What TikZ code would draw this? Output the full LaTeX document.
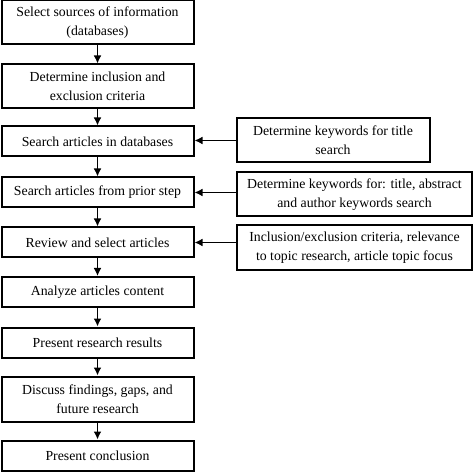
\documentclass[tikz,border=0pt]{standalone}
\usepackage{fontspec}
\setmainfont{Liberation Serif}
\usepackage{tikz}
\usetikzlibrary{arrows.meta}

\tikzset{
  stepbox/.style={draw,line width=2pt,align=center,inner sep=0pt,
    font=\fontsize{13.8}{19}\selectfont},
  flow/.style={-{Latex[length=8pt,width=8pt]},line width=1.7pt}
}

\begin{document}
\begin{tikzpicture}[x=1pt,y=1pt]
        \useasboundingbox (0,0) rectangle (474,-473);
        % main steps
        \node[stepbox,minimum width=192,minimum height=44] (s1) at (97.5,-22.5) {Select sources of information\\(databases)};
        \node[stepbox,minimum width=192,minimum height=44] (s2) at (97.5,-86.5) {Determine inclusion and\\exclusion criteria};
        \node[stepbox,minimum width=192,minimum height=30] (s3) at (97.5,-141.5) {Search articles in databases};
        \node[stepbox,minimum width=192,minimum height=30] (s4) at (97.5,-192.5) {Search articles from prior step};
        \node[stepbox,minimum width=192,minimum height=30] (s5) at (97.5,-242.5) {Review and select articles};
        \node[stepbox,minimum width=192,minimum height=30] (s6) at (97.5,-292) {Analyze articles content};
        \node[stepbox,minimum width=192,minimum height=30] (s7) at (97.5,-342.5) {Present research results};
        \node[stepbox,minimum width=192,minimum height=45] (s8) at (97.5,-399) {Discuss findings, gaps, and\\future research};
        \node[stepbox,minimum width=192,minimum height=30] (s9) at (97.5,-455.5) {Present conclusion};
        % side inputs
        \node[stepbox,minimum width=193,minimum height=44] (k1) at (333,-140.5) {Determine keywords for title\\search};
        \node[stepbox,minimum width=235,minimum height=44] (k2) at (354.5,-194.5) {Determine keywords for: title, abstract\\and author keywords search};
        \node[stepbox,minimum width=235,minimum height=45] (k3) at (354.5,-248) {Inclusion/exclusion criteria, relevance\\to topic research, article topic focus};
        \foreach \a/\b in {s1/s2,s2/s3,s3/s4,s4/s5,s5/s6,s6/s7,s7/s8,s8/s9}
          \draw[flow] (\a) -- (\b);
        \draw[flow] (k1.west) -- (k1.west -| s3.east);
        \draw[flow] (k2.west |- s4) -- (s4.east);
        \draw[flow] (k3.west |- s5) -- (s5.east);
    \end{tikzpicture}
\end{document}
